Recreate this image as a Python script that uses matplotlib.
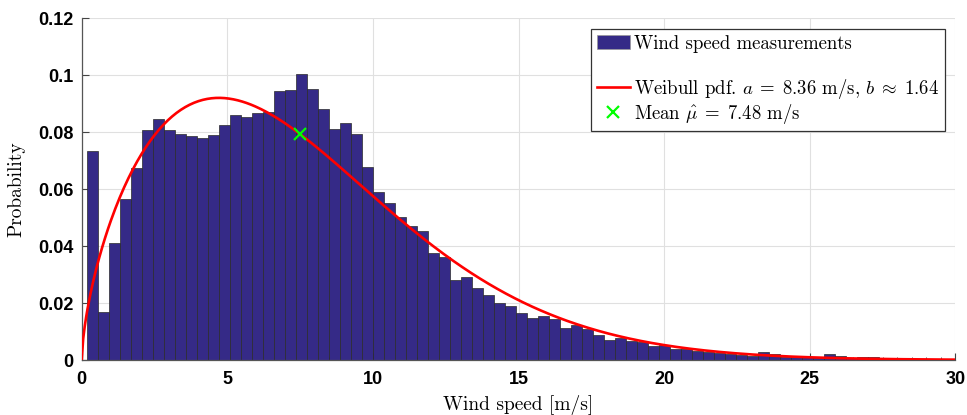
import numpy as np
import matplotlib
matplotlib.use("Agg")
import matplotlib.pyplot as plt
from matplotlib.patches import Patch
from matplotlib.lines import Line2D

# histogram (pdf-normalised), bins
bin_start = 0.165
bin_width = 0.378
heights = [
    0.0732, 0.0167, 0.0412, 0.0566, 0.0675, 0.0808, 0.0847, 0.0806, 0.0793, 0.0786,
    0.0779, 0.0791, 0.0825, 0.0860, 0.0851, 0.0865, 0.0869, 0.0945, 0.0947, 0.1004,
    0.0951, 0.0881, 0.0812, 0.0830, 0.0793, 0.0678, 0.0591, 0.0552, 0.0502, 0.0470,
    0.0453, 0.0377, 0.0361, 0.0282, 0.0290, 0.0253, 0.0228, 0.0201, 0.0188, 0.0164,
    0.0149, 0.0154, 0.0144, 0.0112, 0.0122, 0.0108, 0.0087, 0.0070, 0.0077, 0.0067,
    0.0064, 0.0048, 0.0053, 0.0040, 0.0037, 0.0032, 0.0029, 0.0026, 0.0022, 0.0019,
    0.0015, 0.0027, 0.0022, 0.0011, 0.0010, 0.0012, 0.0010, 0.0020, 0.0015, 0.0008,
    0.0011, 0.0011, 0.0008, 0.0006, 0.0004, 0.0003, 0.0003, 0.0002, 0.0002,
]

# Weibull fit parameters (from the legend)
weib_a = 8.36
weib_b = 1.64
mean_speed = 7.48


def weibull_pdf(x, a, b):
    return (b / a) * (x / a) ** (b - 1) * np.exp(-(x / a) ** b)


plt.rcParams['mathtext.fontset'] = 'cm'
plt.rcParams['axes.unicode_minus'] = False

fig = plt.figure(figsize=(9.67, 4.15), dpi=100)
ax = fig.add_axes([0.0845, 0.1325, 0.9035, 0.8241])

left_edges = bin_start + bin_width * np.arange(len(heights))
ax.bar(left_edges, heights, width=bin_width, align='edge',
       color='#352a87', edgecolor='#2a2a2a', linewidth=0.5, zorder=2)

xs = np.linspace(0, 30, 600)
ax.plot(xs, weibull_pdf(xs, weib_a, weib_b), color='red', linewidth=1.9, zorder=3)
ax.plot([mean_speed], [weibull_pdf(mean_speed, weib_a, weib_b)], 'x',
        color='#00ff00', markersize=8, markeredgewidth=1.6, zorder=4)

ax.set_xlim(0, 30)
ax.set_ylim(0, 0.12)
ax.set_xticks([0, 5, 10, 15, 20, 25, 30])
ax.set_xticks(np.arange(0, 30.01, 0.5), minor=True)
ax.set_yticks([0, 0.02, 0.04, 0.06, 0.08, 0.1, 0.12])
ax.set_yticklabels(['0', '0.02', '0.04', '0.06', '0.08', '0.1', '0.12'])

for lab in ax.get_xticklabels() + ax.get_yticklabels():
    lab.set_fontfamily('Liberation Sans')
    lab.set_fontweight('bold')
    lab.set_fontsize(13)

ax.tick_params(axis='both', which='major', direction='in', length=5, width=0.8,
               color='#444444')
ax.tick_params(axis='x', which='major', pad=8)
ax.tick_params(axis='y', which='major', pad=6)
ax.tick_params(axis='x', which='minor', direction='in', length=2.5, width=0.6,
               color='#444444')
ax.tick_params(axis='y', which='minor', left=False)

ax.grid(True, which='major', color='#e0e0e0', linewidth=0.8, zorder=0)
ax.set_axisbelow(True)
for side in ['top', 'right']:
    ax.spines[side].set_visible(False)
for side in ['left', 'bottom']:
    ax.spines[side].set_color('#555555')
    ax.spines[side].set_linewidth(0.9)

ax.set_xlabel('Wind speed [m/s]', fontfamily='cmr10', fontsize=14, labelpad=5)
ax.set_ylabel('Probability', fontfamily='cmr10', fontsize=14, labelpad=9)

handles = [
    Patch(facecolor='#352a87', edgecolor='#999999', linewidth=0.5),
    Line2D([], [], color='none'),
    Line2D([], [], color='red', linewidth=1.9),
    Line2D([], [], color='#00ff00', marker='x', linestyle='none',
           markersize=8, markeredgewidth=1.6),
]
labels = [
    'Wind speed measurements',
    r'$\hat{\mu}$ Wg',  # blank spacer row, hidden below
    r'Weibull pdf. $a\;=\;8.36$ m/s, $b\;\approx\;1.64$',
    r'Mean $\hat{\mu}\;=\;7.48$ m/s',
]
leg = ax.legend(handles, labels, loc='upper right', bbox_to_anchor=(0.988, 0.968),
                prop={'family': 'cmr10', 'size': 13.5}, fancybox=False,
                framealpha=1, edgecolor='#333333', borderpad=0.3,
                handlelength=1.75, handletextpad=0.25, labelspacing=0.05,
                borderaxespad=0)
leg.get_texts()[1].set_alpha(0)
leg.get_frame().set_linewidth(0.9)

fig.savefig('out.png', dpi=100)
